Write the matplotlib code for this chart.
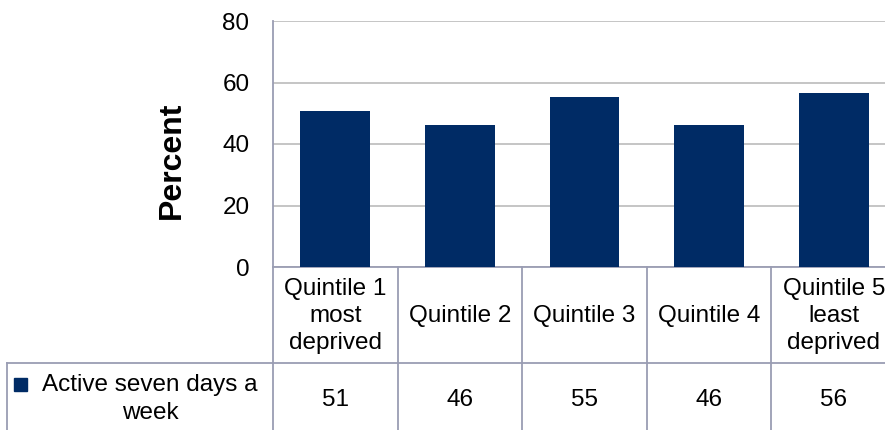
import matplotlib.pyplot as plt
from matplotlib.transforms import blended_transform_factory
from matplotlib.patches import Rectangle

plt.rcParams['font.family'] = ['Liberation Sans', 'DejaVu Sans']

categories = ["Quintile 1\nmost\ndeprived", "Quintile 2", "Quintile 3", "Quintile 4", "Quintile 5\nleast\ndeprived"]
values = [50.6, 46.3, 55.4, 46.2, 56.6]
table_values = ["51", "46", "55", "46", "56"]
series_name = "Active seven days a\nweek"
yticks = [0, 20, 40, 60, 80]

W, H = 885, 430
bar_col = '#002B65'
line_col = '#9A9DB3'
fs = 17.5

fig = plt.figure(figsize=(W / 100, H / 100), dpi=100)
# axes: left 273px, right 896px (runs off the figure), top 21px, bottom 267px
ax = fig.add_axes([273 / W, (H - 267) / H, (896 - 273) / W, (267 - 21) / H])

x = list(range(len(categories)))
ax.bar(x, values, width=0.56, color=bar_col, zorder=3)
ax.set_xlim(-0.5, len(categories) - 0.5)
ax.set_ylim(0, 80)
ax.set_yticks(yticks)
ax.set_xticks([])
ax.tick_params(axis='y', length=0, labelsize=fs, pad=17)
ax.grid(axis='y', color='#C0C0C0', linewidth=1.3, zorder=0)
for s in ['top', 'right']:
    ax.spines[s].set_visible(False)
for s in ['left', 'bottom']:
    ax.spines[s].set_color(line_col)
    ax.spines[s].set_linewidth(1.3)
ax.set_ylabel("Percent", fontsize=23, fontweight='bold')
ax.yaxis.set_label_coords(-86 / 623, 0.435)

# data table below the plot
px = 1.0 / (267 - 21)  # one pixel in axes fraction (vertical)
tr = blended_transform_factory(ax.transData, ax.transAxes)
y_head = -(363 - 267) * px
y_bot = -(440 - 267) * px
for i in range(len(categories) + 1):
    ax.plot([i - 0.5, i - 0.5], [0, y_bot], color=line_col, lw=1.3,
            transform=tr, clip_on=False)
ax.plot([-0.5, len(categories) - 0.5], [y_head, y_head], color=line_col, lw=1.3,
        transform=tr, clip_on=False)

for i, (c, v) in enumerate(zip(categories, table_values)):
    ax.text(i, -(316 - 267) * px, c, transform=tr, ha='center', va='center',
            fontsize=fs, linespacing=1.3, multialignment='center', clip_on=False)
    ax.text(i, -(400 - 267) * px, v, transform=tr, ha='center', va='center',
            fontsize=fs, clip_on=False)

# row label cell in figure pixel coords
fig.add_artist(plt.Line2D([7 / W, 273 / W], [(H - 363) / H] * 2, color=line_col, lw=1.3))
fig.add_artist(plt.Line2D([7 / W, 7 / W], [(H - 363) / H, 0], color=line_col, lw=1.3))
fig.add_artist(Rectangle((14 / W, (H - 391) / H), 13 / W, 13 / H, color=bar_col,
                         transform=fig.transFigure))
fig.text(150 / W, (H - 399) / H, series_name, ha='center', va='center',
         fontsize=fs, linespacing=1.3, multialignment='center')

fig.savefig('out.png', dpi=100)
